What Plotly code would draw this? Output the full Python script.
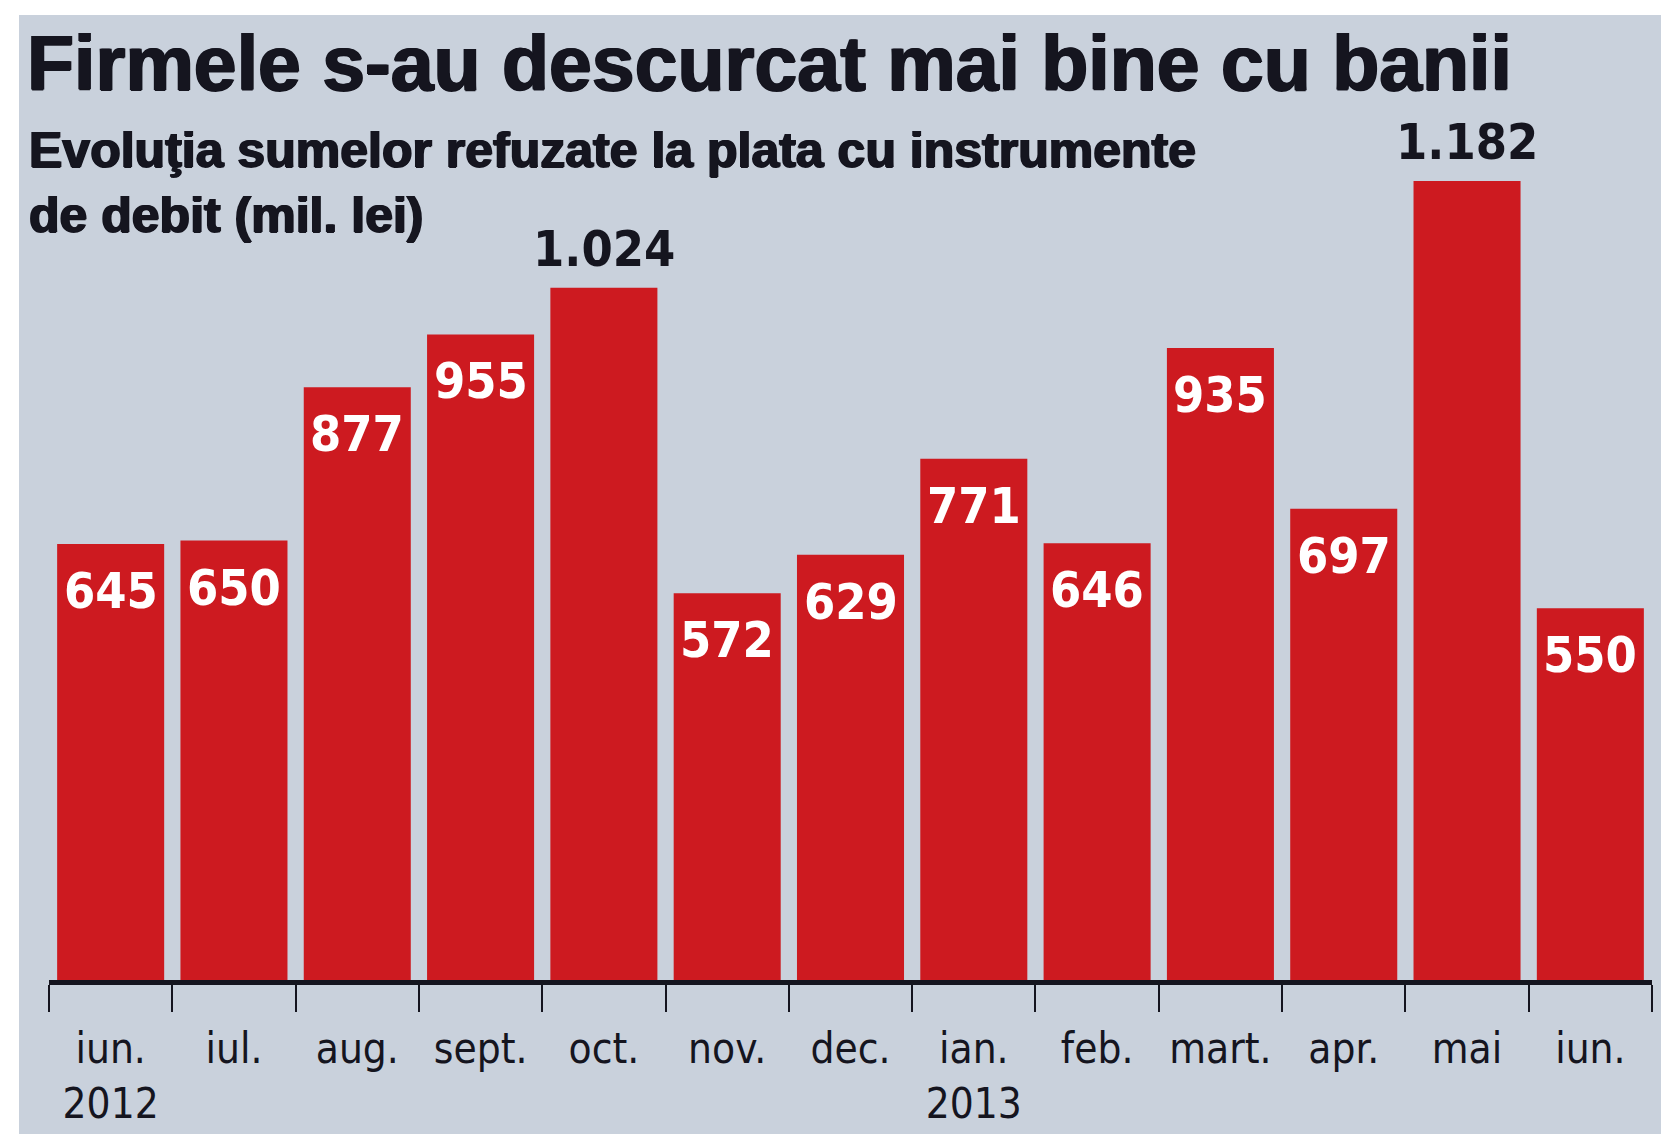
import plotly.graph_objects as go

# ---- data ----
months = ["iun.", "iul.", "aug.", "sept.", "oct.", "nov.", "dec.",
          "ian.", "feb.", "mart.", "apr.", "mai", "iun."]
years = ["2012", "", "", "", "", "", "", "2013", "", "", "", "", ""]
values = [645, 650, 877, 955, 1024, 572, 629, 771, 646, 935, 697, 1182, 550]

title_text = "Firmele s-au descurcat mai bine cu banii"
subtitle_text = "Evoluţia sumelor refuzate la plata cu instrumente<br>de debit (mil. lei)"

# ---- styling ----
W, H = 1669, 1134
ML, MR, MT, MB = 41, 25, 100, 162
BG = "#c9d1dc"
RED = "#cd1a20"
INK = "#15151f"
NARROW = "DejaVu Sans Condensed, Liberation Sans Narrow, sans-serif"
BOLD = "Liberation Sans, Arial, Helvetica, sans-serif"
HEAVY = f"1px 0 0 {INK}, -1px 0 0 {INK}, 0 1px 0 {INK}"

categories = [m + ("<br>" + y if y else "") for m, y in zip(months, years)]


def fmt(v):
    return f"{v:,}".replace(",", ".")


fig = go.Figure()
fig.add_trace(go.Bar(
    x=categories,
    y=values,
    marker=dict(color=RED, line=dict(width=0)),
    hoverinfo="skip",
))

plot_w = W - ML - MR
plot_h = H - MT - MB

# gray panel (paper coordinates extended beyond plot area)
fig.add_shape(
    type="rect", xref="paper", yref="paper", layer="below",
    x0=(11 - ML) / plot_w, x1=(1657 - ML) / plot_w,
    y0=(H - MB - 1134) / plot_h, y1=(H - MB - 7) / plot_h,
    fillcolor=BG, line=dict(width=0),
)

annotations = []
for c, v in zip(categories, values):
    outside = v >= 1000
    annotations.append(dict(
        x=c, y=v, xref="x", yref="y",
        text=fmt(v), showarrow=False,
        yanchor="bottom" if outside else "top",
        yshift=8 if outside else -16,
        font=dict(family=NARROW, size=50, color=INK if outside else "white",
                  weight="bold"),
    ))

# subtitle
annotations.append(dict(
    x=(19 - ML) / plot_w, y=(H - MB - 112) / plot_h,
    xref="paper", yref="paper", xanchor="left", yanchor="top",
    align="left", showarrow=False, text=subtitle_text,
    font=dict(family=BOLD, size=50, color=INK, weight="bold", shadow=HEAVY),
))

fig.update_layout(
    width=W, height=H,
    margin=dict(l=ML, r=MR, t=MT, b=MB, pad=0, autoexpand=False),
    paper_bgcolor="white",
    plot_bgcolor="rgba(0,0,0,0)",
    showlegend=False,
    bargap=0.132,
    title=dict(
        text=title_text, x=19 / W, xanchor="left", xref="container",
        y=1 - 28 / H, yanchor="top", yref="container",
        font=dict(family=BOLD, size=77, color=INK, weight="bold", shadow=HEAVY),
    ),
    annotations=annotations,
    xaxis=dict(
        type="category", automargin=False, tickangle=0,
        showline=True, linewidth=5, linecolor=INK,
        ticks="outside", tickson="boundaries", ticklen=27, tickwidth=1.5,
        tickcolor=INK,
        tickfont=dict(family=NARROW, size=42, color=INK),
        ticklabelstandoff=28,
        showgrid=False, zeroline=False,
    ),
    yaxis=dict(
        range=[0, 1290], visible=False, showgrid=False, zeroline=False,
        automargin=False,
    ),
)

fig.write_html("out.html")
